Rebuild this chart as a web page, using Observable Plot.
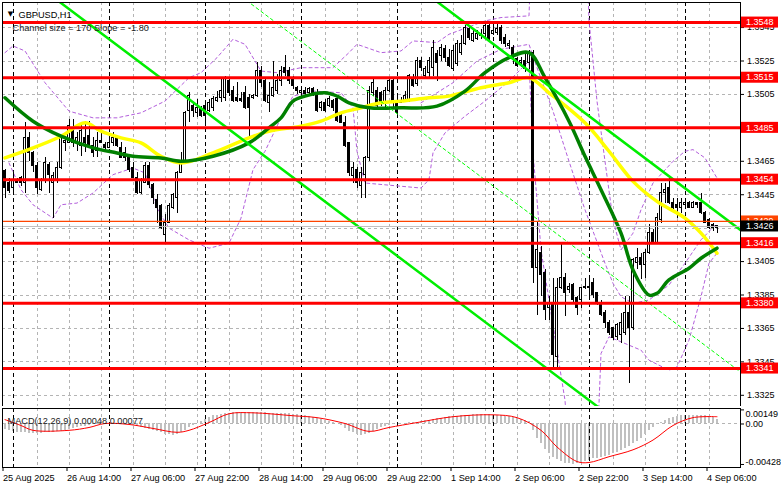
<!DOCTYPE html>
<html>
<head>
<meta charset="utf-8">
<script src="https://cdn.jsdelivr.net/npm/d3@7"></script>
<script src="https://cdn.jsdelivr.net/npm/@observablehq/plot@0.6"></script>
<style>
  html, body { margin: 0; padding: 0; background: #ffffff; }
  #chart { width: 781px; height: 489px; overflow: hidden; background: #fff; }
  #chart svg { display: block; }
</style>
</head>
<body>
<div id="chart"></div>
<script>
// ---------------- DATA ----------------
const symbolTitle = "GBPUSD,H1";
const channelNote = "Channel size = 170 Slope = -1.80";

// H1 candles, bar 0 = 25 Aug 22:00, bar 178 = 4 Sep 08:00
const openP = [
1.3459,1.3452,1.3449,1.3454,1.3455,1.3452,1.3479,1.3470,1.3462,1.3448,
1.3453,1.3463,1.3452,1.3454,1.3461,1.3476,1.3476,1.3485,1.3476,1.3474,
1.3479,1.3480,1.3474,1.3471,1.3477,1.3475,1.3473,1.3476,1.3479,1.3473,
1.3470,1.3467,1.3461,1.3455,1.3446,1.3452,1.3462,1.3451,1.3442,1.3438,
1.3421,1.3428,1.3437,1.3443,1.3458,1.3464,1.3495,1.3498,1.3494,1.3497,
1.3498,1.3495,1.3497,1.3501,1.3503,1.3503,1.3513,1.3507,1.3503,1.3502,
1.3506,1.3503,1.3503,1.3504,1.3519,1.3513,1.3500,1.3504,1.3507,1.3513,
1.3521,1.3519,1.3515,1.3509,1.3506,1.3507,1.3506,1.3508,1.3506,1.3497,
1.3500,1.3498,1.3501,1.3502,1.3492,1.3488,1.3476,1.3456,1.3460,1.3450,
1.3457,1.3467,1.3506,1.3507,1.3506,1.3500,1.3507,1.3513,1.3500,1.3500,
1.3501,1.3501,1.3515,1.3511,1.3525,1.3516,1.3518,1.3521,1.3529,1.3528,
1.3532,1.3527,1.3520,1.3523,1.3530,1.3535,1.3544,1.3537,1.3538,1.3540,
1.3541,1.3546,1.3541,1.3542,1.3545,1.3539,1.3534,1.3533,1.3526,1.3524,
1.3525,1.3524,1.3530,1.3401,1.3410,1.3398,1.3377,1.3379,1.3348,1.3389,
1.3395,1.3388,1.3391,1.3383,1.3382,1.3389,1.3389,1.3392,1.3386,1.3380,
1.3374,1.3368,1.3365,1.3360,1.3361,1.3362,1.3374,1.3365,1.3404,1.3407,
1.3403,1.3410,1.3422,1.3416,1.3430,1.3446,1.3449,1.3440,1.3439,1.3437,
1.3439,1.3440,1.3437,1.3440,1.3440,1.3434,1.3430,1.3427,1.3425];
const highP = [
1.3460,1.3455,1.3458,1.3455,1.3456,1.3488,1.3482,1.3471,1.3464,1.3455,
1.3467,1.3464,1.3458,1.3464,1.3479,1.3480,1.3490,1.3490,1.3482,1.3488,
1.3489,1.3489,1.3479,1.3482,1.3482,1.3476,1.3479,1.3482,1.3480,1.3476,
1.3473,1.3468,1.3464,1.3458,1.3455,1.3464,1.3464,1.3452,1.3445,1.3439,
1.3433,1.3440,1.3446,1.3459,1.3470,1.3495,1.3506,1.3500,1.3502,1.3498,
1.3500,1.3502,1.3504,1.3507,1.3515,1.3516,1.3515,1.3510,1.3512,1.3506,
1.3510,1.3505,1.3505,1.3524,1.3522,1.3515,1.3512,1.3525,1.3517,1.3522,
1.3528,1.3521,1.3516,1.3510,1.3508,1.3509,1.3509,1.3509,1.3508,1.3501,
1.3502,1.3504,1.3502,1.3503,1.3494,1.3492,1.3476,1.3464,1.3461,1.3461,
1.3468,1.3510,1.3514,1.3509,1.3507,1.3509,1.3515,1.3515,1.3503,1.3503,
1.3507,1.3517,1.3517,1.3527,1.3527,1.3522,1.3527,1.3537,1.3531,1.3535,
1.3534,1.3532,1.3534,1.3537,1.3540,1.3546,1.3546,1.3543,1.3543,1.3544,
1.3547,1.3547,1.3547,1.3547,1.3546,1.3541,1.3537,1.3534,1.3527,1.3527,
1.3530,1.3531,1.3531,1.3429,1.3414,1.3400,1.3384,1.3395,1.3395,1.3416,
1.3398,1.3392,1.3392,1.3384,1.3389,1.3395,1.3395,1.3395,1.3386,1.3382,
1.3376,1.3370,1.3365,1.3368,1.3374,1.3384,1.3384,1.3407,1.3413,1.3410,
1.3412,1.3427,1.3424,1.3434,1.3452,1.3452,1.3455,1.3443,1.3443,1.3443,
1.3441,1.3441,1.3441,1.3440,1.3446,1.3435,1.3431,1.3428,1.3426];
const lowP = [
1.3443,1.3446,1.3446,1.3452,1.3450,1.3446,1.3465,1.3458,1.3445,1.3447,
1.3452,1.3446,1.3431,1.3452,1.3460,1.3471,1.3476,1.3473,1.3471,1.3468,
1.3470,1.3473,1.3467,1.3467,1.3476,1.3470,1.3473,1.3474,1.3473,1.3467,
1.3465,1.3458,1.3455,1.3445,1.3445,1.3452,1.3449,1.3439,1.3428,1.3424,
1.3415,1.3428,1.3436,1.3434,1.3458,1.3464,1.3488,1.3491,1.3491,1.3491,
1.3486,1.3494,1.3495,1.3500,1.3500,1.3501,1.3504,1.3500,1.3500,1.3500,
1.3496,1.3480,1.3502,1.3503,1.3509,1.3500,1.3494,1.3503,1.3505,1.3510,
1.3516,1.3511,1.3508,1.3505,1.3504,1.3504,1.3505,1.3504,1.3494,1.3495,
1.3494,1.3497,1.3495,1.3488,1.3488,1.3473,1.3456,1.3452,1.3449,1.3443,
1.3443,1.3465,1.3504,1.3497,1.3498,1.3497,1.3506,1.3497,1.3492,1.3500,
1.3500,1.3500,1.3509,1.3510,1.3519,1.3515,1.3515,1.3516,1.3513,1.3525,
1.3524,1.3521,1.3519,1.3522,1.3528,1.3534,1.3537,1.3536,1.3537,1.3538,
1.3539,1.3537,1.3540,1.3540,1.3535,1.3533,1.3532,1.3523,1.3521,1.3521,
1.3518,1.3520,1.3392,1.3373,1.3384,1.3370,1.3370,1.3340,1.3340,1.3388,
1.3372,1.3386,1.3380,1.3373,1.3377,1.3388,1.3383,1.3383,1.3379,1.3372,
1.3365,1.3361,1.3358,1.3358,1.3356,1.3361,1.3332,1.3364,1.3400,1.3394,
1.3395,1.3409,1.3415,1.3415,1.3428,1.3440,1.3439,1.3436,1.3431,1.3434,
1.3437,1.3437,1.3437,1.3437,1.3433,1.3428,1.3424,1.3423,1.3422];
const closeP = [
1.3449,1.3447,1.3453,1.3452,1.3452,1.3479,1.3470,1.3462,1.3449,1.3454,
1.3464,1.3457,1.3456,1.3461,1.3479,1.3477,1.3486,1.3476,1.3479,1.3483,
1.3476,1.3474,1.3470,1.3477,1.3476,1.3473,1.3476,1.3479,1.3474,1.3467,
1.3467,1.3460,1.3455,1.3446,1.3454,1.3462,1.3451,1.3443,1.3437,1.3425,
1.3428,1.3438,1.3445,1.3458,1.3464,1.3494,1.3504,1.3495,1.3497,1.3492,
1.3492,1.3500,1.3502,1.3503,1.3507,1.3514,1.3506,1.3501,1.3501,1.3501,
1.3497,1.3497,1.3504,1.3519,1.3512,1.3501,1.3504,1.3509,1.3513,1.3519,
1.3518,1.3513,1.3510,1.3507,1.3507,1.3505,1.3508,1.3506,1.3495,1.3500,
1.3495,1.3502,1.3497,1.3489,1.3488,1.3474,1.3458,1.3461,1.3452,1.3458,
1.3467,1.3507,1.3512,1.3498,1.3500,1.3507,1.3513,1.3501,1.3494,1.3501,
1.3504,1.3516,1.3510,1.3525,1.3521,1.3520,1.3525,1.3533,1.3524,1.3533,
1.3527,1.3522,1.3531,1.3535,1.3535,1.3545,1.3539,1.3541,1.3541,1.3541,
1.3546,1.3538,1.3543,1.3544,1.3537,1.3535,1.3535,1.3527,1.3522,1.3525,
1.3520,1.3530,1.3401,1.3412,1.3397,1.3376,1.3380,1.3349,1.3389,1.3395,
1.3386,1.3390,1.3382,1.3377,1.3389,1.3390,1.3390,1.3385,1.3380,1.3373,
1.3368,1.3362,1.3359,1.3367,1.3368,1.3374,1.3365,1.3406,1.3407,1.3403,
1.3410,1.3422,1.3416,1.3431,1.3446,1.3448,1.3440,1.3437,1.3437,1.3440,
1.3440,1.3437,1.3440,1.3439,1.3434,1.3428,1.3425,1.3425,1.3426];

// moving averages: [bar, price]
const maYellow = [[0,1.3467],[7,1.3473],[14,1.3480],[20,1.3488],[24,1.3483],[29,1.3479],[34,1.3476],[39,1.3468],[44,1.3464],[52,1.3470],[61,1.3479],[66,1.3483],[74,1.3486],[79,1.3489],[84,1.3494],[89,1.3497],[94,1.3500],[99,1.3501],[106,1.3503],[111,1.3504],[119,1.3509],[126,1.3512],[131,1.3515],[136,1.3506],[145,1.3488],[151,1.3471],[157,1.3453],[163,1.3441],[170,1.3431],[174,1.3422],[178,1.3410]];
const maGreen = [[0,1.3503],[7,1.3489],[14,1.3480],[22,1.3473],[28,1.3470],[32,1.3468],[39,1.3467],[44,1.3465],[52,1.3468],[61,1.3476],[66,1.3485],[69,1.3491],[72,1.3501],[75,1.3504],[80,1.3506],[83,1.3504],[86,1.3500],[91,1.3497],[99,1.3497],[108,1.3498],[115,1.3507],[120,1.3518],[126,1.3527],[131,1.3530],[135,1.3515],[141,1.3489],[145,1.3468],[149,1.3448],[154,1.3422],[157,1.3400],[161,1.3385],[163,1.3386],[166,1.3394],[171,1.3401],[174,1.3407],[178,1.3413]];

// Bollinger bands: [bar, price]
const bbUpper = [[0,1.3530],[2,1.3534],[5,1.3531],[10,1.3512],[16,1.3495],[22,1.3491],[28,1.3491],[34,1.3494],[40,1.3501],[46,1.3515],[49,1.3518],[53,1.3527],[57,1.3538],[60,1.3535],[64,1.3519],[68,1.3518],[74,1.3521],[82,1.3521],[86,1.3530],[88,1.3535],[94,1.3530],[99,1.3531],[102,1.3537],[108,1.3536],[111,1.3541],[120,1.3549],[124,1.3551],[131,1.3552],[132,1.3620],[145,1.3620],[146,1.3549],[148,1.3501],[150,1.3465],[152,1.3430],[154,1.3412],[157,1.3422],[159,1.3436],[162,1.3452],[167,1.3465],[170,1.3471],[172,1.3472],[175,1.3467],[178,1.3455]];
const bbMiddle = [[104,1.3500],[112,1.3512],[118,1.3525],[124,1.3532],[131,1.3535],[133,1.3521],[137,1.3495],[141,1.3465],[145,1.3436],[150,1.3404],[152,1.3392],[154,1.3384],[157,1.3380],[161,1.3382],[166,1.3391],[170,1.3404],[174,1.3418],[178,1.3428]];
const bbLower = [[1,1.3464],[4,1.3448],[7,1.3439],[12,1.3431],[14,1.3439],[18,1.3440],[22,1.3446],[27,1.3457],[32,1.3461],[35,1.3458],[38,1.3437],[41,1.3425],[46,1.3418],[51,1.3413],[56,1.3416],[59,1.3431],[62,1.3460],[65,1.3471],[69,1.3491],[72,1.3504],[77,1.3507],[84,1.3506],[87,1.3497],[88,1.3471],[90,1.3452],[104,1.3449],[106,1.3454],[107,1.3470],[110,1.3482],[115,1.3492],[120,1.3501],[126,1.3513],[131,1.3525],[132,1.3470],[133,1.3442],[134,1.3412],[140,1.3322],[141,1.3290],[148,1.3290],[149,1.3350],[151,1.3360],[159,1.3352],[161,1.3346],[166,1.3340],[168,1.3342],[171,1.3358],[174,1.3384],[176,1.3404],[178,1.3410]];

// linear regression channel anchors: [bar, price]
const channelLower = [[10,1.35669],[150,1.33149]];
const channelMiddle = [[58,1.35655],[184,1.33387]];
const channelUpper = [[100,1.35749],[184,1.34237]];

// horizontal levels
const levels = [1.3548, 1.3515, 1.3485, 1.3454, 1.3416, 1.3380, 1.3341];
const askLine = 1.3429;
const lastPrice = 1.3426;

// axes
const priceTicks = [1.3545,1.3525,1.3505,1.3485,1.3465,1.3445,1.3425,1.3405,1.3385,1.3365,1.3345,1.3325];
const timeTickBars = [0,16,32,48,64,80,96,112,128,144,160,176];
const timeLabels = ["25 Aug 2025","26 Aug 14:00","27 Aug 06:00","27 Aug 22:00","28 Aug 14:00","29 Aug 06:00","29 Aug 22:00","1 Sep 14:00","2 Sep 06:00","2 Sep 22:00","3 Sep 14:00","4 Sep 06:00"];
const gridBars = [8,16,24,32,40,48,56,64,72,80,88,96,104,112,120,128,136,144,152,160,168,176];
const daySeparatorBars = [2,26,50,74,98,122,146,170];

// MACD(12,26,9)
const macdHist = [
-0.00055,-0.00065,-0.00075,-0.00085,-0.00090,
-0.00095,-0.00098,-0.00100,-0.00100,-0.00098,-0.00095,
-0.00092,-0.00088,-0.00082,-0.00075,-0.00068,
-0.00060,-0.00050,-0.00040,-0.00030,-0.00022,
-0.00015,-0.00008,-0.00003,0.00000,
0.00002,0.00003,0.00002,0.00000,-0.00003,-0.00006,-0.00010,
-0.00015,-0.00025,-0.00035,-0.00045,-0.00055,-0.00065,
-0.00080,-0.00095,-0.00110,-0.00115,-0.00118,-0.00110,
-0.00095,-0.00070,-0.00040,-0.00015,0.00010,
0.00030,0.00050,0.00070,0.00085,0.00095,0.00105,0.00110,
0.00115,0.00118,0.00120,0.00120,0.00118,0.00117,0.00118,
0.00120,0.00120,0.00118,0.00115,0.00113,0.00112,
0.00112,0.00112,0.00110,0.00105,0.00100,0.00095,
0.00088,0.00080,0.00070,0.00060,0.00050,0.00040,0.00028,
0.00015,0.00000,-0.00020,-0.00045,-0.00075,
-0.00095,-0.00110,-0.00118,-0.00115,-0.00100,
-0.00075,-0.00055,-0.00040,-0.00028,-0.00015,
-0.00005,0.00000,0.00005,0.00008,0.00012,0.00016,0.00020,0.00026,
0.00033,0.00040,0.00048,0.00055,0.00062,0.00068,0.00074,0.00080,
0.00084,0.00088,0.00092,0.00095,0.00097,0.00098,0.00098,0.00097,0.00096,
0.00094,0.00092,0.00088,0.00083,0.00076,0.00068,
0.00058,0.00048,0.00038,0.00028,
-0.00070,-0.00150,-0.00210,-0.00265,-0.00310,-0.00350,
-0.00380,-0.00400,-0.00415,-0.00422,-0.00425,-0.00420,
-0.00410,-0.00395,-0.00382,-0.00370,-0.00360,-0.00350,-0.00340,
-0.00328,-0.00315,-0.00300,-0.00280,-0.00255,-0.00235,
-0.00210,-0.00180,-0.00150,-0.00110,-0.00070,-0.00035,
-0.00005,0.00020,0.00040,0.00055,0.00068,
0.00078,0.00085,0.00090,0.00093,0.00095,0.00095,
0.00093,0.00088,0.00078,0.00065,0.00048];
const macdSignal = [[0,0.00046],[4,-0.00016],[7,-0.00067],[16,-0.00067],[21,-0.00037],[25,0.00005],[31,-0.00005],[37,-0.00047],[43,-0.00088],[46,-0.00067],[51,0.00015],[56,0.00108],[62,0.00118],[72,0.00087],[78,0.00067],[85,0.00005],[91,-0.00078],[96,-0.00037],[103,0.00015],[112,0.00077],[122,0.00097],[128,0.00067],[134,-0.00067],[138,-0.00243],[143,-0.00397],[146,-0.00407],[151,-0.00346],[157,-0.00273],[162,-0.00170],[167,-0.00016],[172,0.00067],[178,0.00077]];
const macdScaleLabels = [0.00149, 0.00, -0.00428];
const macdScaleText = ["0.00149", "0.00", "-0.00428"];
const macdMainLast = 0.00048;
const macdSignalLast = 0.00077;

// ---------------- DRAW ----------------
const FONT = "'Liberation Sans', Arial, sans-serif";
const W = 781;
const X_DOMAIN = [-0.625, 183.875];
const GRID = "#b4b4b4";
const BB = "#b35fdc";

const candles = closeP.map((c, i) => ({i, o: openP[i], h: highP[i], l: lowP[i], c}));
const pt = d => d[0], pv = d => d[1];

const main = Plot.plot({
  width: W, height: 406,
  marginLeft: 2, marginRight: 41, marginTop: 2, marginBottom: 0,
  x: {domain: X_DOMAIN, axis: null},
  y: {domain: [1.33183, 1.35600], axis: null},
  style: {fontFamily: FONT, fontSize: "9.2px", color: "black", background: "white"},
  marks: [
    Plot.ruleX(gridBars, {stroke: GRID, strokeDasharray: "3,3", shapeRendering: "crispEdges"}),
    Plot.ruleY(priceTicks, {stroke: GRID, strokeDasharray: "3,3", shapeRendering: "crispEdges"}),
    Plot.ruleX(daySeparatorBars, {stroke: "black", strokeDasharray: "4,3", shapeRendering: "crispEdges"}),
    Plot.line(bbUpper, {x: pt, y: pv, stroke: BB, strokeWidth: 1, strokeDasharray: "3,3", clip: true}),
    Plot.line(bbMiddle, {x: pt, y: pv, stroke: BB, strokeWidth: 1, strokeDasharray: "3,3", clip: true}),
    Plot.line(bbLower, {x: pt, y: pv, stroke: BB, strokeWidth: 1, strokeDasharray: "3,3", clip: true}),
    Plot.ruleX(candles, {x: "i", y1: "l", y2: "h", stroke: "black", strokeWidth: 1, shapeRendering: "crispEdges"}),
    Plot.rect(candles, {x1: d => d.i - 0.25, x2: d => d.i + 0.25, y1: "o", y2: "c",
      fill: d => d.c >= d.o ? "white" : "black", stroke: "black", strokeWidth: 1, shapeRendering: "crispEdges"}),
    Plot.line(maYellow, {x: pt, y: pv, stroke: "#ffff00", strokeWidth: 3.5, curve: "catmull-rom"}),
    Plot.line(maGreen, {x: pt, y: pv, stroke: "#008000", strokeWidth: 3.5, curve: "catmull-rom"}),
    Plot.line(channelMiddle, {x: pt, y: pv, stroke: "#00ff00", strokeWidth: 1, strokeDasharray: "3,3", clip: true}),
    Plot.line(channelLower, {x: pt, y: pv, stroke: "#00ee00", strokeWidth: 2.5, clip: true}),
    Plot.line(channelUpper, {x: pt, y: pv, stroke: "#00ee00", strokeWidth: 2.5, clip: true}),
    Plot.ruleY([lastPrice], {stroke: "#c0c0c0", strokeWidth: 1}),
    Plot.ruleY([askLine], {stroke: "#ff4500", strokeWidth: 1.3}),
    Plot.ruleY(levels, {stroke: "#ff0000", strokeWidth: 3}),
    Plot.frame({stroke: "black", shapeRendering: "crispEdges"}),
    Plot.axisY({anchor: "right", ticks: priceTicks, tickFormat: d => d.toFixed(4), tickSize: 3, tickPadding: 3.5, fontSize: 9, label: null}),
    Plot.text(["\u25BC"], {frameAnchor: "top-left", dx: 8, dy: 9, textAnchor: "middle", fontSize: 7, fontFamily: "DejaVu Sans", fill: "black"}),
    Plot.text([symbolTitle], {frameAnchor: "top-left", dx: 16, dy: 9, textAnchor: "start", fill: "black"}),
    Plot.text([channelNote], {frameAnchor: "top-left", dx: 10, dy: 22, textAnchor: "start", fill: "#202020"})
  ]
});

// price tags on the right axis, positioned with Plot's own scales
{
  const ys = main.scale("y"), xs = main.scale("x");
  const xEdge = xs.range[1];
  const g = d3.select(main).append("g")
    .attr("font-family", FONT).attr("font-size", 9).attr("text-anchor", "start");
  const tag = (v, fill) => {
    const y = ys.apply(v);
    g.append("rect").attr("x", xEdge + 1).attr("y", y - 5.5).attr("width", 37).attr("height", 11).attr("fill", fill);
    g.append("text").attr("x", xEdge + 6).attr("y", y).attr("dy", "0.35em")
      .attr("text-anchor", "start").attr("fill", "white").text(v.toFixed(4));
  };
  tag(askLine, "#ff4500");
  tag(lastPrice, "#000000");
  levels.forEach(v => tag(v, "#ff0000"));
}

const histData = macdHist.map((v, i) => ({i, v}));
const macd = Plot.plot({
  width: W, height: 83,
  marginLeft: 2, marginRight: 41, marginTop: 1.5, marginBottom: 22,
  x: {domain: X_DOMAIN, axis: null},
  y: {domain: [-0.00460, 0.00169], axis: null},
  style: {fontFamily: FONT, fontSize: "9.2px", color: "black", background: "white"},
  marks: [
    Plot.ruleX(gridBars, {stroke: GRID, strokeDasharray: "3,3", shapeRendering: "crispEdges"}),
    Plot.ruleY([0], {stroke: GRID, strokeDasharray: "3,3", shapeRendering: "crispEdges"}),
    Plot.rect(histData, {x1: d => d.i - 0.25, x2: d => d.i + 0.25, y1: () => 0, y2: "v", fill: "#c0c0c0", shapeRendering: "crispEdges"}),
    Plot.ruleX(daySeparatorBars, {stroke: "black", strokeDasharray: "4,3", shapeRendering: "crispEdges"}),
    Plot.line(macdSignal, {x: pt, y: pv, stroke: "#ff0000", strokeWidth: 1, curve: "catmull-rom"}),
    Plot.frame({stroke: "black", shapeRendering: "crispEdges"}),
    Plot.axisX({ticks: timeTickBars, tickFormat: d => timeLabels[timeTickBars.indexOf(d)], textAnchor: "start", tickSize: 4, tickPadding: 3, dx: -2, fontSize: 9.2, label: null}),
    Plot.axisY({anchor: "right", ticks: macdScaleLabels, tickFormat: () => "", tickSize: 3, label: null}),
    Plot.text([macdScaleLabels[0]], {y: d => d, text: () => macdScaleText[0], frameAnchor: "right", dx: 5, dy: 4.5, textAnchor: "start", fontSize: 9}),
    Plot.text([macdScaleLabels[1]], {y: d => d, text: () => macdScaleText[1], frameAnchor: "right", dx: 5, dy: 0.5, textAnchor: "start", fontSize: 9}),
    Plot.text([macdScaleLabels[2]], {y: d => d, text: () => macdScaleText[2], frameAnchor: "right", dx: 5, dy: -2, textAnchor: "start", fontSize: 9}),
    Plot.text([`MACD(12,26,9) ${macdMainLast.toFixed(5)} ${macdSignalLast.toFixed(5)}`], {frameAnchor: "top-left", dx: 5, dy: 9.5, textAnchor: "start", fill: "#202020"})
  ]
});

const root = document.getElementById("chart");
root.appendChild(main);
root.appendChild(macd);
</script>
</body>
</html>
